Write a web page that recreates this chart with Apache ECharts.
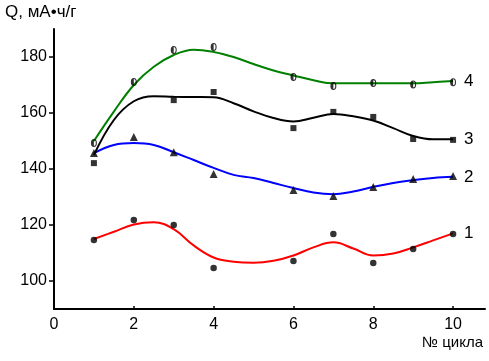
<!DOCTYPE html>
<html><head><meta charset="utf-8">
<script src="https://cdn.jsdelivr.net/npm/echarts@6/dist/echarts.min.js"></script>
<style>html,body{margin:0;padding:0;background:#fff}#c{width:489px;height:361px}</style>
</head><body><div id="c"></div>
<script>
// measured points
const cycles1 = [1,2,3,4,6,7,8,9,10];
const cap1 = [114.6,121.8,120.0,104.6,107.1,116.8,106.4,111.4,116.8];
const cycles2 = [1,2,3,4,6,7,8,9,10];
const cap2 = [145.7,151.4,146.0,138.2,132.5,130.4,133.6,136.4,137.5];
const cycles3 = [1,3,4,6,7,8,9,10];
const cap3 = [142.1,164.6,167.5,154.6,160.4,158.6,150.7,150.4];
const cycles4 = [1,2,3,4,6,7,8,9,10];
const cap4 = [149.3,171.1,182.5,183.6,172.9,169.6,170.7,170.2,171.0];
// fitted curves
const fitX = [1,1.5,2,2.5,3,3.5,4,4.5,5,5.5,6,6.5,7,7.5,8,8.5,9,9.5,10];
const fit1 = [115.0,117.6,120.2,121.0,118.5,112.7,108.4,106.9,106.5,107.2,109.1,112.0,113.8,111.6,109.1,109.8,112.0,114.5,117.0];
const fit2 = [145.7,148.6,149.3,148.6,146.0,143.2,140.4,137.9,136.8,135.0,133.2,131.6,131.0,132.0,133.6,135.0,136.0,136.8,137.2];
const fit3 = [145.0,157.5,164.2,166.0,165.8,165.7,165.6,163.5,160.6,158.2,157.0,158.3,159.6,158.8,157.3,154.6,151.8,150.6,150.6];
const fit4 = [150.0,160.5,170.0,176.5,180.7,182.6,181.8,180.0,177.5,175.2,173.4,171.7,170.6,170.6,170.6,170.6,170.6,171.0,171.4];
const seriesNames = ['1','2','3','4'];
const xTicks = [0,2,4,6,8,10];
const yTicks = [100,120,140,160,180];

const halfCircle = 'path://M0,-5A3.5,5 0 1 0 0,5A3.5,5 0 1 0 0,-5ZM0,-3.6A2.2,3.6 0 0 1 0,3.6Z';
const zip = (xs, ys) => xs.map((x, i) => [x, ys[i]]);
const lineColors = ['#ff0000', '#0000ff', '#000000', '#008000'];
const fits = [fit1, fit2, fit3, fit4];
const pts = [zip(cycles1, cap1), zip(cycles2, cap2), zip(cycles3, cap3), zip(cycles4, cap4)];
const symbols = ['circle', 'triangle', 'rect', halfCircle];
const symSizes = [6.5, 8, 6, [6, 8]];

const series = [];
for (let i = 0; i < 4; i++) {
  series.push({
    type: 'line', name: seriesNames[i], data: zip(fitX, fits[i]), smooth: 0.4,
    showSymbol: false, symbol: 'none', z: 2,
    lineStyle: { color: lineColors[i], width: 2 },
    endLabel: { show: true, formatter: seriesNames[i], color: '#000', fontSize: 17,
      fontFamily: 'Liberation Sans', offset: [3, 0] },
    silent: true
  });
}
for (let i = 0; i < 4; i++) {
  series.push({
    type: 'scatter', data: pts[i], symbol: symbols[i], symbolSize: symSizes[i], z: 3,
    itemStyle: { color: '#000' }
  });
}

const chart = echarts.init(document.getElementById('c'), null, { renderer: 'canvas' });
chart.setOption({
  animation: false,
  backgroundColor: '#fff',
  grid: { left: 54, right: 4, top: 29, bottom: 52, containLabel: false },
  xAxis: {
    type: 'value', min: 0, max: 10.8,
    axisLine: { lineStyle: { color: '#000', width: 2 } },
    axisTick: { show: true, inside: true, length: 3, customValues: xTicks, lineStyle: { color: '#000', width: 1.5 } },
    axisLabel: { customValues: xTicks, color: '#000', fontSize: 16, fontFamily: 'Liberation Sans', margin: 8 },
    splitLine: { show: false }
  },
  yAxis: {
    type: 'value', min: 90, max: 190,
    axisLine: { show: true, lineStyle: { color: '#000', width: 2 } },
    axisTick: { show: true, inside: false, length: 5, customValues: yTicks, lineStyle: { color: '#000', width: 1.5 } },
    axisLabel: { customValues: yTicks, color: '#000', fontSize: 16, fontFamily: 'Liberation Sans', margin: 7 },
    splitLine: { show: false }
  },
  graphic: [
    { type: 'text', left: 5, top: 4, style: { text: 'Q, мА•ч/г', fontSize: 17, fontFamily: 'Liberation Sans', fill: '#000' } },
    { type: 'text', right: 6, top: 335, style: { text: '№ цикла', fontSize: 15, fontFamily: 'Liberation Sans', fill: '#000' } }
  ],
  series: series
});
</script></body></html>
